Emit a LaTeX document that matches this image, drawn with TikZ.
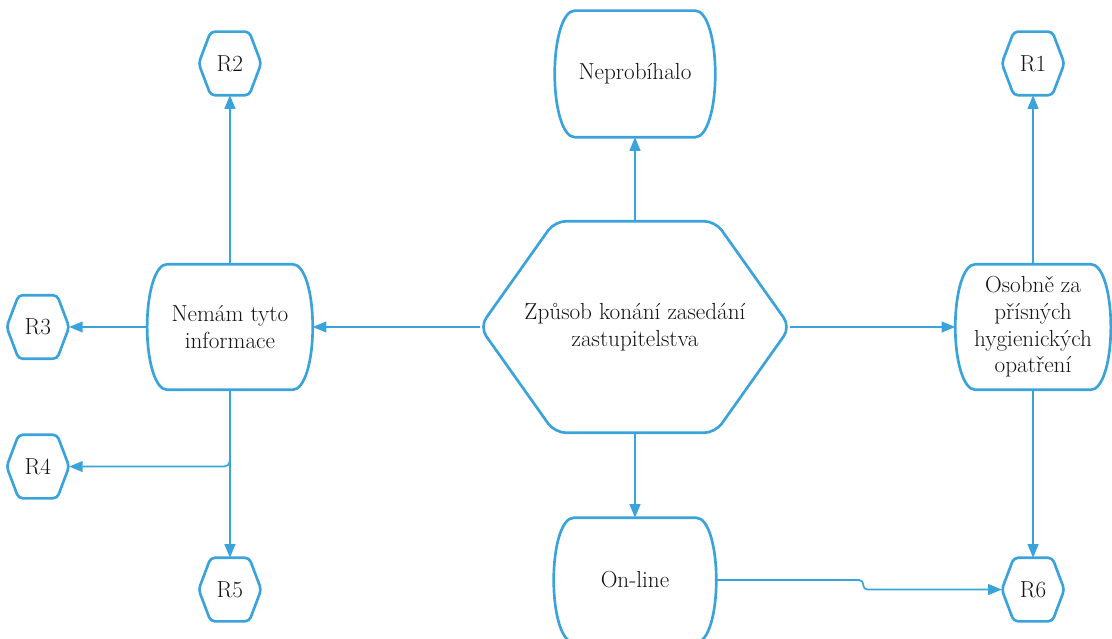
\documentclass[tikz,border=0pt]{standalone}
\usepackage{fontspec}
\usepackage{tikz}
\usetikzlibrary{arrows.meta,positioning}
\definecolor{flowblue}{RGB}{58,163,220}
\definecolor{textgray}{RGB}{20,20,20}
\tikzset{
    %Define standard arrow tip
    >={Triangle[length=3.4mm,width=2.7mm]},
    %Define style for the big hexagon
    bighex/.style={
           rectangle,
           inner sep=0pt,
           minimum width=7.75cm,
           minimum height=5.275cm,
           align=center,
           text=textgray,
           append after command={\pgfextra{
              \draw[flowblue, line width=1.9pt, rounded corners=8pt]
                 (\tikzlastnode.west) -- ([xshift=1.875cm]\tikzlastnode.north west)
                 -- ([xshift=-1.875cm]\tikzlastnode.north east) -- (\tikzlastnode.east)
                 -- ([xshift=-1.875cm]\tikzlastnode.south east)
                 -- ([xshift=1.875cm]\tikzlastnode.south west) -- cycle;}}
           },
    %Define style for the small result hexagons
    reshex/.style={
           rectangle,
           inner sep=0pt,
           minimum width=1.55cm,
           minimum height=1.575cm,
           align=center,
           text=textgray,
           append after command={\pgfextra{
              \draw[flowblue, line width=1.9pt, rounded corners=3pt]
                 (\tikzlastnode.west) -- ([xshift=0.3cm]\tikzlastnode.north west)
                 -- ([xshift=-0.3cm]\tikzlastnode.north east) -- (\tikzlastnode.east)
                 -- ([xshift=-0.3cm]\tikzlastnode.south east)
                 -- ([xshift=0.3cm]\tikzlastnode.south west) -- cycle;}}
           },
    %Define style for boxes with bulging sides
    sidebox/.style={
           rectangle,
           inner sep=0pt,
           align=center,
           text=textgray,
           append after command={\pgfextra{
              \draw[flowblue, line width=1.9pt]
                 ([xshift=0.5cm]\tikzlastnode.north west) -- ([xshift=-0.5cm]\tikzlastnode.north east)
                 .. controls +(0.3,0) and +(0,0.85) .. (\tikzlastnode.east)
                 .. controls +(0,-0.85) and +(0.3,0) .. ([xshift=-0.5cm]\tikzlastnode.south east)
                 -- ([xshift=0.5cm]\tikzlastnode.south west)
                 .. controls +(-0.3,0) and +(0,-0.85) .. (\tikzlastnode.west)
                 .. controls +(0,0.85) and +(-0.3,0) .. ([xshift=0.5cm]\tikzlastnode.north west) -- cycle;}}
           },
    % Define arrow style
    pil/.style={
           ->,
           flowblue,
           line width=1.2pt}
}
\begin{document}
\begin{tikzpicture}[font=\fontsize{16.5}{19}\selectfont]
\useasboundingbox (-15.875,8.175) rectangle ++(27.8,-15.975);
 %nodes
\node[bighex](main) at (0,0){Způsob konání zasedání\\zastupitelstva};
\node[sidebox, minimum width=4cm, minimum height=3.15cm, above=2.1cm of main](nepro){Neprobíhalo};
\node[sidebox, minimum width=4.05cm, minimum height=3.1cm, below=2.125cm of main](online){On-line};
\node[sidebox, minimum width=4.125cm, minimum height=3.125cm, left=4.175cm of main](nemam){Nemám tyto\\informace};
\node[sidebox, minimum width=3.875cm, minimum height=3.125cm, right=4.125cm of main](osobne){Osobně za\\přísných\\hygienických\\opatření};
\node[reshex, above=4.225cm of osobne](r1){R1};
\node[reshex, above=4.225cm of nemam](r2){R2};
\node[reshex, left=1.95cm of nemam](r3){R3};
\node[reshex, below=1.9cm of r3](r4){R4};
\node[reshex, below=4.2cm of nemam](r5){R5};
\node[reshex, below=4.2cm of osobne](r6){R6};
\coordinate[right=3.675cm of online.east](jog);
 %edges
\draw[pil] (main.north) -- (nepro.south);
\draw[pil] (main.south) -- (online.north);
\draw[pil] (main.west) -- (nemam.east);
\draw[pil] (main.east) -- (osobne.west);
\draw[pil] (nemam.north) -- (r2.south);
\draw[pil] (nemam.west) -- (r3.east);
\draw[pil, rounded corners=4pt] (nemam.south) |- (r4.east);
\draw[pil] (nemam.south) -- (r5.north);
\draw[pil] (osobne.north) -- (r1.south);
\draw[pil] (osobne.south) -- (r6.north);
\draw[pil, rounded corners=3pt] (online.east) -- (jog) |- (r6.west);
\end{tikzpicture}
\end{document}
